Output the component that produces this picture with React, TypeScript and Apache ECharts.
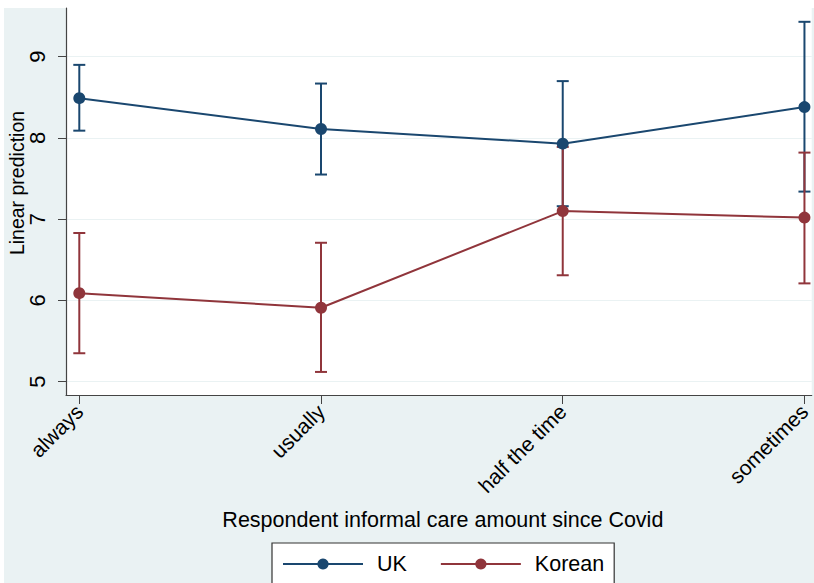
import React, { useEffect, useRef } from "react";
import * as echarts from "echarts";

const categories = ["always", "usually", "half the time", "sometimes"];
const ukMean = [8.49, 8.11, 7.93, 8.38];
const ukLower = [8.09, 7.55, 7.16, 7.34];
const ukUpper = [8.9, 8.67, 8.7, 9.43];
const krMean = [6.09, 5.91, 7.1, 7.02];
const krLower = [5.35, 5.12, 6.31, 6.21];
const krUpper = [6.83, 6.71, 7.89, 7.82];
const yTicks = [5, 6, 7, 8, 9];
const xTicks = [0, 1, 2, 3];

const UK_COLOR = "#1a476f";
const KR_COLOR = "#90353b";
const FONT = "Liberation Sans, Arial, sans-serif";

function errorBar(color: string) {
  return (_params: any, api: any) => {
    const x = api.value(0);
    const top = api.coord([x, api.value(2)]);
    const bot = api.coord([x, api.value(1)]);
    const hw = 6;
    const style = { stroke: color, lineWidth: 2 };
    return {
      type: "group",
      children: [
        { type: "line", shape: { x1: top[0], y1: top[1], x2: bot[0], y2: bot[1] }, style },
        { type: "line", shape: { x1: top[0] - hw, y1: top[1], x2: top[0] + hw, y2: top[1] }, style },
        { type: "line", shape: { x1: bot[0] - hw, y1: bot[1], x2: bot[0] + hw, y2: bot[1] }, style },
      ],
    };
  };
}

export default function App() {
  const ref = useRef<HTMLDivElement>(null);
  useEffect(() => {
    if (!ref.current) return;
    const chart = echarts.init(ref.current, null, { renderer: "svg" });
    const ukCI = categories.map((_, i) => [i, ukLower[i], ukUpper[i]]);
    const krCI = categories.map((_, i) => [i, krLower[i], krUpper[i]]);
    const ukLine = categories.map((_, i) => [i, ukMean[i]]);
    const krLine = categories.map((_, i) => [i, krMean[i]]);
    chart.setOption({
      animation: false,
      backgroundColor: "transparent",
      textStyle: { fontFamily: FONT },
      grid: {
        left: 66,
        right: 0,
        top: 8,
        bottom: 188,
        show: true,
        backgroundColor: "#ffffff",
        borderWidth: 0,
      },
      xAxis: {
        type: "value",
        min: -0.055,
        max: 3.03,
        name: "Respondent informal care amount since Covid",
        nameLocation: "middle",
        nameGap: 114,
        nameTextStyle: { fontSize: 21.5, color: "#000", fontFamily: FONT, padding: [0, 0, 0, 8] },
        axisLine: { show: true, onZero: false, lineStyle: { color: "#444", width: 1.2 } },
        axisTick: { show: true, length: 9, customValues: xTicks, lineStyle: { color: "#444" } },
        axisLabel: {
          customValues: xTicks,
          formatter: (v: number) => categories[Math.round(v)],
          rotate: 45,
          fontSize: 21,
          color: "#000",
          margin: 13,
          fontFamily: FONT,
        },
        splitLine: { show: false },
        minorSplitLine: { show: false },
      },
      yAxis: {
        type: "value",
        min: 4.836,
        max: 9.6,
        axisLine: { show: true, onZero: false, lineStyle: { color: "#444", width: 1.2 } },
        axisTick: { show: true, length: 8, customValues: yTicks, lineStyle: { color: "#444" } },
        axisLabel: {
          customValues: yTicks,
          rotate: 90,
          fontSize: 22,
          color: "#000",
          margin: 18,
          fontFamily: FONT,
        },
        splitLine: { show: true, lineStyle: { color: "#eaf2f3", width: 1.2 } },
      },
      legend: {
        data: ["UK", "Korean"],
        left: 272,
        top: 543,
        orient: "horizontal",
        backgroundColor: "#ffffff",
        borderColor: "#333",
        borderWidth: 1.2,
        borderRadius: 0,
        padding: [10, 10, 40, 10],
        itemGap: 33,
        itemWidth: 80,
        itemHeight: 14,
        textStyle: { fontSize: 21.5, color: "#000", fontFamily: FONT, padding: [0, 0, 0, 9] },
      },
      graphic: [
        {
          type: "text",
          x: 17,
          y: 183,
          rotation: Math.PI / 2,
          style: {
            text: "Linear prediction",
            font: `19.5px ${FONT}`,
            fill: "#000",
            textAlign: "center",
            textVerticalAlign: "middle",
          },
        },
      ],
      series: [
        {
          name: "UK CI",
          type: "custom",
          renderItem: errorBar(UK_COLOR),
          data: ukCI,
          encode: { x: 0, y: [1, 2] },
          z: 2,
        },
        {
          name: "Korean CI",
          type: "custom",
          renderItem: errorBar(KR_COLOR),
          data: krCI,
          encode: { x: 0, y: [1, 2] },
          z: 2,
        },
        {
          name: "UK",
          type: "line",
          data: ukLine,
          symbol: "circle",
          symbolSize: 12,
          lineStyle: { color: UK_COLOR, width: 2 },
          itemStyle: { color: UK_COLOR },
          z: 3,
        },
        {
          name: "Korean",
          type: "line",
          data: krLine,
          symbol: "circle",
          symbolSize: 12,
          lineStyle: { color: KR_COLOR, width: 2 },
          itemStyle: { color: KR_COLOR },
          z: 3,
        },
      ],
    });
    return () => chart.dispose();
  }, []);
  return (
    <div style={{ position: "absolute", left: 0, top: 0, width: 814, height: 583, background: "#ffffff", overflow: "hidden" }}>
      <div style={{ position: "absolute", left: 4, top: 8, width: 810, height: 575, background: "#eaf2f3" }} />
      <div ref={ref} style={{ position: "absolute", left: 0, top: 0, width: 814, height: 583 }} />
    </div>
  );
}
